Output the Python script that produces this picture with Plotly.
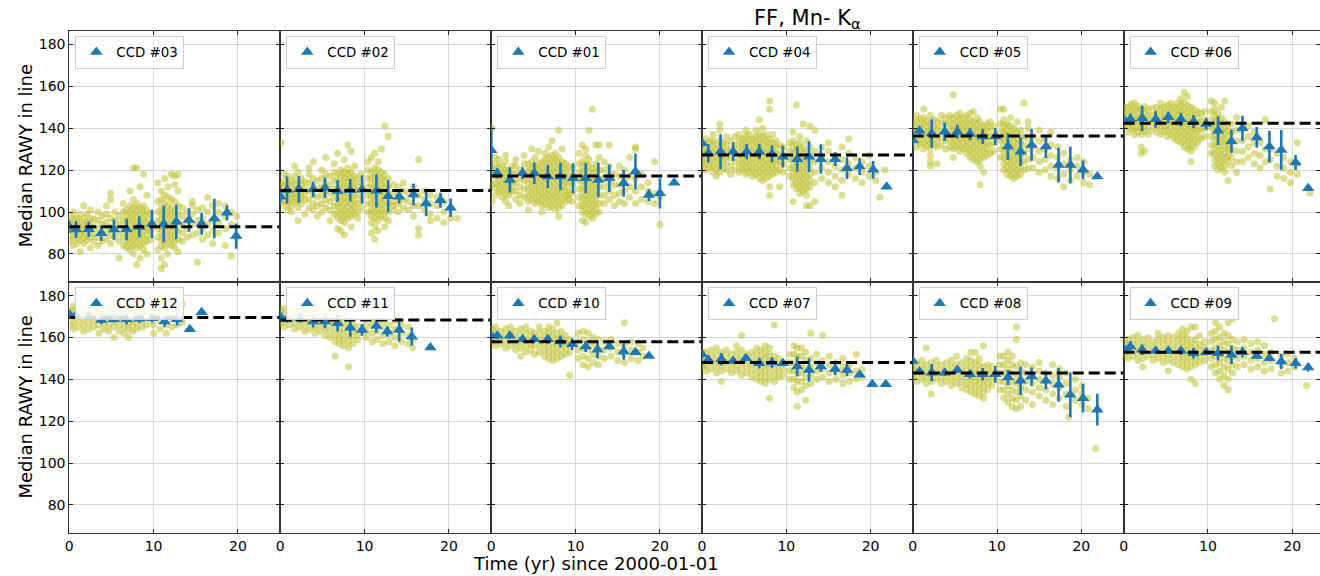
import plotly.graph_objects as go

# ---------------- data ----------------
CCD_LABELS = ["CCD #03", "CCD #02", "CCD #01", "CCD #04", "CCD #05", "CCD #06",
              "CCD #12", "CCD #11", "CCD #10", "CCD #07", "CCD #08", "CCD #09"]
MEDIANS = [93.0, 110.2, 117.2, 127.2, 136.3, 142.3, 169.5, 168.4, 157.9, 148.1, 143.0, 153.0]
X_TICKS = [0, 10, 20]
Y_TICKS = [80, 100, 120, 140, 160, 180]

# binned medians (blue triangles): time, value, error
BIN_T_03 = [0.0, 0.8, 2.3, 3.8, 5.3, 6.8, 8.3, 9.8, 11.2, 12.7, 14.2, 15.7, 17.2, 18.7, 19.8]
BIN_V_03 = [93.0, 91.6, 91.8, 89.8, 91.6, 91.6, 92.9, 94.3, 94.3, 95.3, 96.2, 94.4, 96.9, 99.6, 88.5]
BIN_E_03 = [3.0, 4.0, 3.6, 3.6, 4.8, 5.2, 4.9, 6.8, 8.7, 8.2, 5.6, 5.2, 9.4, 3.6, 6.0]

BIN_T_02 = [0.0, 0.8, 2.2, 3.9, 5.3, 6.8, 8.3, 9.7, 11.4, 12.8, 14.1, 15.8, 17.3, 19.0, 20.2]
BIN_V_02 = [107.3, 110.5, 110.8, 110.8, 111.6, 110.0, 110.4, 110.7, 110.1, 107.5, 107.3, 108.3, 104.0, 105.6, 102.0]
BIN_E_02 = [3.0, 6.4, 6.4, 3.6, 4.8, 5.2, 5.4, 6.8, 7.9, 7.6, 3.2, 5.2, 6.0, 3.6, 4.4]

BIN_T_01 = [0.0, 0.7, 2.2, 3.7, 5.1, 6.7, 8.2, 9.7, 11.2, 12.7, 14.0, 15.7, 17.1, 18.7, 20.0, 21.7]
BIN_V_01 = [129.5, 118.5, 115.3, 118.5, 118.5, 116.9, 116.9, 116.1, 116.1, 115.3, 116.1, 113.7, 119.3, 108.1, 108.9, 114.0]
BIN_E_01 = [11.0, 2.4, 6.0, 2.8, 5.2, 5.6, 6.5, 7.2, 7.2, 8.3, 6.5, 6.4, 8.6, 2.8, 7.2, 0.0]

BIN_T_04 = [0.0, 0.75, 2.2, 3.7, 5.3, 6.8, 8.3, 9.6, 11.3, 12.7, 14.1, 15.8, 17.2, 18.7, 20.3, 21.9]
BIN_V_04 = [132.8, 128.0, 128.8, 128.8, 128.8, 128.8, 127.7, 126.4, 125.2, 126.4, 125.2, 125.2, 120.9, 121.7, 120.1, 112.1]
BIN_E_04 = [2.0, 4.4, 8.3, 4.5, 3.6, 3.6, 4.0, 5.2, 6.0, 7.3, 7.0, 3.3, 5.2, 4.0, 4.2, 0.0]

BIN_T_05 = [0.0, 0.8, 2.25, 3.8, 5.3, 6.8, 8.3, 9.8, 11.3, 12.8, 14.1, 15.8, 17.3, 18.7, 20.2, 21.9]
BIN_V_05 = [134.4, 138.8, 137.5, 138.3, 138.3, 137.2, 136.0, 136.0, 131.2, 128.8, 132.0, 131.2, 122.4, 122.4, 120.1, 116.9]
BIN_E_05 = [3.0, 2.0, 6.8, 4.4, 3.2, 2.8, 3.6, 4.0, 6.4, 6.8, 7.6, 5.4, 8.3, 8.7, 4.5, 0.0]

BIN_T_06 = [0.0, 0.8, 2.2, 3.8, 5.3, 6.8, 8.3, 9.8, 11.2, 12.8, 14.1, 15.8, 17.3, 18.7, 20.4, 21.9]
BIN_V_06 = [144.2, 144.2, 144.7, 144.2, 145.2, 144.2, 143.1, 142.0, 138.8, 133.6, 139.9, 135.6, 131.2, 129.6, 123.6, 111.3]
BIN_E_06 = [2.0, 2.8, 6.0, 4.0, 2.8, 3.2, 3.2, 2.8, 6.8, 5.6, 6.0, 4.9, 7.6, 9.5, 3.6, 0.0]

BIN_T_12 = [0.0, 0.8, 2.3, 3.8, 5.3, 6.8, 8.3, 9.8, 11.3, 12.8, 14.3, 15.7]
BIN_V_12 = [171.1, 170.5, 170.1, 168.4, 168.7, 168.7, 169.0, 169.2, 167.6, 168.7, 163.9, 172.1]
BIN_E_12 = [1.5, 2.0, 1.5, 2.0, 1.5, 2.5, 2.0, 2.0, 2.5, 3.0, 0.0, 0.0]

BIN_T_11 = [0.0, 0.8, 2.4, 3.9, 5.3, 6.8, 8.3, 9.7, 11.4, 12.7, 14.1, 15.6, 17.8]
BIN_V_11 = [170.0, 168.7, 169.2, 167.6, 167.6, 166.8, 164.7, 163.6, 165.5, 162.8, 163.6, 160.4, 155.2]
BIN_E_11 = [1.5, 1.5, 2.0, 2.8, 3.2, 4.0, 4.4, 2.8, 3.2, 2.4, 5.6, 4.4, 0.0]

BIN_T_10 = [0.0, 0.7, 2.2, 3.7, 5.1, 6.7, 8.2, 9.6, 11.2, 12.6, 14.0, 15.7, 17.1, 18.7]
BIN_V_10 = [160.8, 160.8, 160.8, 159.2, 159.2, 159.2, 158.1, 156.8, 155.7, 154.1, 155.7, 153.3, 153.0, 151.2]
BIN_E_10 = [1.5, 1.5, 1.5, 1.5, 1.5, 2.0, 2.8, 2.8, 2.6, 4.0, 1.5, 4.0, 1.5, 0.0]

BIN_T_07 = [0.0, 0.75, 2.3, 3.7, 5.2, 6.8, 8.3, 9.6, 11.3, 12.7, 14.1, 15.8, 17.2, 18.7, 20.2, 21.8]
BIN_V_07 = [152.0, 149.3, 149.6, 148.8, 150.1, 147.7, 148.0, 147.7, 146.1, 144.5, 146.1, 145.0, 144.5, 142.2, 137.7, 137.7]
BIN_E_07 = [1.5, 2.0, 3.0, 1.5, 1.5, 2.5, 2.5, 1.5, 4.8, 5.6, 2.5, 3.0, 3.0, 0.0, 0.0, 0.0]

BIN_T_08 = [0.0, 0.8, 2.25, 3.8, 5.3, 6.8, 8.3, 9.8, 11.3, 12.8, 14.1, 15.8, 17.3, 18.7, 20.2, 21.9]
BIN_V_08 = [148.8, 143.7, 143.2, 143.2, 144.5, 142.4, 142.4, 142.4, 140.9, 139.3, 141.3, 139.3, 137.4, 132.6, 131.0, 125.5]
BIN_E_08 = [1.5, 1.5, 4.1, 1.5, 1.5, 2.0, 3.0, 4.0, 3.6, 6.8, 4.4, 4.0, 8.0, 10.7, 6.8, 7.6]

BIN_T_09 = [0.0, 0.8, 2.2, 3.8, 5.3, 6.8, 8.3, 9.8, 11.2, 12.8, 14.1, 15.8, 17.3, 18.7, 20.4, 21.9]
BIN_V_09 = [154.9, 155.7, 154.1, 153.6, 153.6, 153.6, 152.5, 153.0, 152.5, 151.7, 153.0, 151.2, 150.1, 148.5, 147.7, 145.7]
BIN_E_09 = [1.5, 2.5, 2.5, 1.5, 1.5, 2.0, 2.5, 1.5, 3.5, 4.4, 2.5, 1.5, 1.5, 3.6, 2.5, 2.0]

# individual observations (olive dots): (time, [values at that time])
CLOUD_03 = [(0.1, [86, 89, 92, 95, 98]), (0.5, [84, 87.5, 90.5, 93.5, 96.5, 100]),
            (0.9, [85, 88, 91, 94, 97]), (1.3, [81, 86.5, 89.5, 92.5, 95.5, 99]),
            (1.7, [85, 88, 91, 94, 97, 103]), (2.1, [86.5, 89.5, 92.5, 95.5, 99]),
            (2.5, [83, 88, 91, 94, 97, 101]), (2.9, [86, 89.5, 93, 96.5]),
            (3.4, [84, 88, 92, 96, 100]), (3.9, [86, 90, 94, 98]), (4.4, [87, 91, 95, 99, 103]),
            (4.9, [85, 89, 93, 97, 106, 109]), (5.4, [88, 92, 96, 100]), (5.9, [86, 90, 94, 98, 78]),
            (6.4, [84, 88, 92, 96, 100, 104]), (6.8, [83, 86, 89, 92, 95, 98, 101]),
            (7.2, [82, 85, 88, 91, 94, 97, 100, 103, 110]),
            (7.6, [80, 84, 87, 90, 93, 96, 99, 102, 106, 121]),
            (8.0, [75, 83, 86, 89, 92, 95, 98, 101, 104, 121]),
            (8.4, [78, 84, 87, 90, 93, 96, 99, 102, 112]),
            (8.8, [82, 85, 88, 91, 94, 97, 100, 103, 118]),
            (9.2, [80, 86, 89, 92, 95, 98, 101, 108]), (9.6, [87, 91, 95, 99]),
            (10.5, [82, 88, 92, 96, 100, 105, 114]),
            (10.9, [73, 78, 84, 87, 90, 93, 96, 99, 102, 106, 110]),
            (11.3, [75, 83, 86, 89, 92, 95, 98, 101, 104, 108, 116]),
            (11.7, [80, 85, 88, 91, 94, 97, 100, 103, 107, 112]),
            (12.1, [84, 87, 90, 93, 96, 99, 102, 106, 118]),
            (12.5, [83, 86, 89, 92, 95, 98, 101, 105, 113, 117]),
            (12.9, [81, 87, 91, 95, 99, 103, 110, 118]), (13.4, [86, 90, 94, 98, 102]),
            (14.0, [88, 92, 96, 100]), (14.6, [89, 94, 99, 103, 105]), (15.2, [90, 96, 101, 76]),
            (15.8, [87, 92, 97, 102]), (16.4, [89, 94, 100, 107]), (17.0, [91, 96, 103, 85]),
            (17.7, [90, 95, 100, 104]), (18.5, [84, 92, 98, 103]), (19.2, [79, 94, 100]),
            (19.9, [98, 88])]

CLOUD_02 = [(0.1, [133, 105, 109, 113]), (0.5, [103, 106, 109, 112, 115, 118]),
            (0.9, [101, 104.5, 107.5, 110.5, 113.5, 117]), (1.3, [103, 106, 109, 112, 115, 100]),
            (1.7, [104.5, 107.5, 110.5, 113.5, 117, 122]), (2.1, [102, 105, 108, 111, 114, 119, 96]),
            (2.5, [104, 107, 110, 113, 116]), (2.9, [99, 105.5, 108.5, 111.5, 114.5]),
            (3.4, [102, 106, 110, 114, 118, 121]), (3.9, [101, 104, 108, 112, 116, 124]),
            (4.4, [103, 107, 111, 115, 98]), (4.9, [100, 104, 108, 112, 116, 120]),
            (5.4, [102, 106, 110, 114, 118, 126]), (5.9, [101, 105, 109, 113, 117, 96]),
            (6.4, [99, 103, 107, 111, 115, 119, 123]),
            (6.8, [97, 100, 103, 106, 109, 112, 115, 118, 128, 92]),
            (7.2, [96, 99, 102, 105, 108, 111, 114, 117, 120, 91]),
            (7.6, [95, 98, 101, 104, 107, 110, 113, 116, 119, 125, 89]),
            (8.0, [97, 100, 103, 106, 109, 112, 115, 118, 121, 132]),
            (8.4, [98, 101, 104, 107, 110, 113, 116, 119, 129, 93]),
            (8.8, [99, 102, 105, 108, 111, 114, 117, 122]), (9.2, [100, 104, 108, 112, 116, 97]),
            (9.6, [102, 106, 110, 114, 118]), (10.4, [100, 104, 108, 112, 116, 120, 124]),
            (10.8, [95, 98, 101, 104, 107, 110, 113, 116, 119, 126, 90]),
            (11.2, [93, 97, 100, 103, 106, 109, 112, 115, 118, 121, 128, 87]),
            (11.6, [96, 99, 102, 105, 108, 111, 114, 117, 120, 124, 91]),
            (12.0, [98, 101, 104, 107, 110, 113, 116, 119, 130]),
            (12.4, [97, 100, 103, 106, 109, 112, 115, 118, 141, 93]),
            (12.8, [100, 104, 108, 112, 116, 136, 96]), (13.4, [101, 105, 109, 113, 103]),
            (14.0, [100, 104, 108, 112]), (14.6, [102, 106, 110, 114]), (15.2, [101, 105, 109]),
            (15.8, [98, 103, 108, 112]), (16.4, [125, 103, 92, 89, 108]), (17.1, [101, 106, 110]),
            (17.8, [99, 104, 108, 96]), (18.6, [97, 103, 107]), (19.4, [100, 95, 105]),
            (20.2, [97, 102]), (21.0, [97])]

CLOUD_01 = [(0.1, [140, 105, 113, 117, 121]), (0.5, [108, 111, 114, 117, 120, 123, 126]),
            (0.9, [109.5, 112.5, 115.5, 118.5, 121.5, 125]), (1.3, [107, 110, 113, 116, 119, 122]),
            (1.7, [105, 108.5, 111.5, 114.5, 117.5, 120.5, 124, 127]), (2.1, [108, 111, 114, 117, 120, 103]),
            (2.5, [109.5, 112.5, 115.5, 118.5, 122]), (2.9, [106, 110, 114, 118, 122, 125]),
            (3.4, [108, 112, 116, 120, 104]), (3.9, [107, 111, 115, 119, 123, 127]),
            (4.4, [105, 108, 111, 114, 117, 120, 123, 101]),
            (4.8, [106, 109, 112, 115, 118, 121, 124, 130]),
            (5.2, [104, 107, 110, 113, 116, 119, 122, 126]),
            (5.6, [105, 108, 111, 114, 117, 120, 123, 129]),
            (6.0, [103, 106, 109, 112, 115, 118, 121, 124, 100]),
            (6.4, [104, 107, 110, 113, 116, 119, 122, 125, 128]),
            (6.8, [102, 105, 108, 111, 114, 117, 120, 123, 126, 131]),
            (7.2, [103, 106, 109, 112, 115, 118, 121, 124, 127, 134]),
            (7.6, [101, 104, 107, 110, 113, 116, 119, 122, 125, 128]),
            (8.0, [98, 102, 105, 108, 111, 114, 117, 120, 123, 126, 139]),
            (8.4, [103, 106, 109, 112, 115, 118, 121, 124, 130]),
            (8.8, [105, 108, 111, 114, 117, 120, 123]), (9.2, [106, 110, 114, 118, 122, 108]),
            (9.6, [105, 109, 113, 117, 121]), (10.4, [103, 107, 111, 115, 119, 123, 128]),
            (10.8, [96, 100, 103, 106, 109, 112, 115, 118, 121, 124, 132]),
            (11.2, [95, 99, 102, 105, 108, 111, 114, 117, 120, 123, 127, 130]),
            (11.6, [98, 101, 104, 107, 110, 113, 116, 119, 122, 125, 139]),
            (12.0, [97, 100, 103, 106, 109, 112, 115, 118, 121, 149]),
            (12.4, [99, 102, 105, 108, 111, 114, 117, 120, 123, 132]),
            (12.8, [100, 104, 108, 112, 116, 120, 126, 132]), (13.4, [104, 108, 112, 116, 120, 124]),
            (14.0, [106, 110, 114, 118, 122, 132]), (14.6, [103, 108, 113, 118]),
            (15.2, [105, 109, 113, 117, 122]), (15.8, [104, 110, 115, 120]),
            (16.4, [107, 112, 117, 126]), (17.1, [104, 110, 116, 131, 130]), (17.8, [106, 112, 118]),
            (18.6, [105, 110, 114]), (19.4, [104, 109, 124]), (20.0, [94, 107])]

CLOUD_04 = [(0.1, [133, 122, 125, 128, 131]), (0.5, [120, 123, 126, 129, 132, 135]),
            (0.9, [121.5, 124.5, 127.5, 130.5, 133.5]), (1.3, [119, 122, 125, 128, 131, 134, 137]),
            (1.7, [117, 120.5, 123.5, 126.5, 129.5, 132.5]),
            (2.1, [119, 122, 125, 128, 131, 134, 142, 139]), (2.5, [121, 124, 127, 130, 133]),
            (2.9, [120, 123.5, 126.5, 129.5, 132.5, 136]), (3.4, [118, 122, 126, 130, 134]),
            (3.9, [120, 124, 128, 132, 136]), (4.4, [119, 122, 125, 128, 131, 134, 137]),
            (4.8, [120, 123, 126, 129, 132, 135]), (5.2, [118, 121, 124, 127, 130, 133, 136, 139]),
            (5.6, [119, 122, 125, 128, 131, 134, 137]), (6.0, [117, 120, 123, 126, 129, 132, 135]),
            (6.4, [118, 121, 124, 127, 130, 133, 136, 139]),
            (6.8, [116, 119, 122, 125, 128, 131, 134, 137, 144]),
            (7.2, [115, 118, 121, 124, 127, 130, 133, 136, 140]),
            (7.6, [116, 119, 122, 125, 128, 131, 134, 137]),
            (8.0, [108, 112, 117, 120, 123, 126, 129, 132, 135, 153, 149]),
            (8.4, [118, 121, 124, 127, 130, 133, 137]), (8.8, [119, 122, 125, 128, 131, 134]),
            (9.2, [120, 124, 128, 132, 112]), (9.6, [119, 123, 127, 131]),
            (10.4, [117, 121, 125, 129, 133]),
            (10.8, [113, 116, 119, 122, 125, 128, 131, 134, 138, 105]),
            (11.2, [111, 114, 117, 120, 123, 126, 129, 132, 151]),
            (11.6, [109, 112, 115, 118, 121, 124, 127, 130, 133, 136]),
            (12.0, [110, 113, 116, 119, 122, 125, 128, 131, 142]),
            (12.4, [103, 108, 111, 114, 117, 120, 123, 126, 129, 134]),
            (12.8, [103, 112, 115, 118, 121, 124, 127, 131, 141]),
            (13.4, [105, 114, 119, 124, 129, 139]), (14.2, [116, 121, 126, 131]),
            (15.0, [114, 119, 124, 129, 133]), (15.8, [112, 117, 122, 127]),
            (16.6, [108, 115, 120, 125, 131]), (17.4, [118, 123, 128, 135]), (18.2, [116, 121, 126]),
            (19.0, [114, 119, 124]), (19.8, [117, 122, 127]), (20.6, [115, 119]), (21.1, [107]),
            (21.7, [120])]

CLOUD_05 = [(0.1, [134, 137, 140, 143]), (0.5, [131, 134, 137, 140, 143, 146]),
            (0.9, [132.5, 135.5, 138.5, 141.5, 144.5]), (1.3, [130, 133, 136, 139, 142, 145, 149]),
            (1.7, [131.5, 134.5, 137.5, 140.5, 143.5]),
            (2.1, [122, 124, 127, 130, 133, 136, 139, 142, 146]), (2.5, [132, 135, 138, 141, 144]),
            (2.9, [123, 131, 134, 137, 140, 143]), (3.4, [132, 135.5, 139, 142.5, 146]),
            (3.9, [130, 134, 138, 142, 145]), (4.4, [131, 134, 137, 140, 143, 146]),
            (4.8, [126, 130, 133, 136, 139, 142, 145, 156]), (5.2, [131, 134, 137, 140, 143, 146]),
            (5.6, [129, 132, 135, 138, 141, 144, 147]), (6.0, [130, 133, 136, 139, 142, 145]),
            (6.4, [128, 131, 134, 137, 140, 143, 146]),
            (6.8, [126, 129, 132, 135, 138, 141, 144, 147]),
            (7.2, [125, 128, 131, 134, 137, 140, 143, 148]),
            (7.6, [124, 127, 130, 133, 136, 139, 142, 145]),
            (8.0, [113, 122, 125, 128, 131, 134, 137, 140, 143]),
            (8.4, [119, 126, 129, 132, 135, 138, 141]), (8.8, [127, 130, 133, 136, 139, 142]),
            (9.2, [128, 132, 136, 140, 143]), (9.6, [129, 133, 137, 141]),
            (10.4, [126, 130, 134, 138, 142, 149]),
            (10.8, [120, 123, 126, 129, 132, 135, 138, 141, 144, 149]),
            (11.2, [118, 121, 124, 127, 130, 133, 136, 139, 142]),
            (11.6, [117, 120, 123, 126, 129, 132, 135, 138, 141, 145]),
            (12.0, [116, 119, 122, 125, 128, 131, 134, 137, 140]),
            (12.4, [117, 120, 123, 126, 129, 132, 135, 138, 143]),
            (12.8, [118, 121, 124, 127, 130, 133, 136, 139]), (13.2, [120, 124, 128, 132, 136, 152]),
            (13.7, [121, 125, 130, 135, 140, 143]), (14.3, [121, 126, 131, 136]),
            (15.0, [119, 124, 129, 134, 139]), (15.7, [120, 125, 130, 135]),
            (16.4, [117, 122, 127, 132, 138]), (17.2, [116, 121, 126, 131]),
            (17.9, [112, 118, 123, 128]), (18.7, [115, 120, 125]), (19.5, [117, 122, 126]),
            (20.3, [114, 119, 124]), (21.0, [113, 118])]

CLOUD_06 = [(0.1, [141, 144, 147, 150]), (0.5, [138, 141, 144, 147, 150]),
            (0.9, [139.5, 142.5, 145.5, 148.5, 151.5]), (1.3, [137, 140, 143, 146, 149, 152]),
            (1.7, [138.5, 141.5, 144.5, 147.5, 150.5]), (2.1, [128, 131, 137, 140, 143, 146, 149]),
            (2.5, [129, 138.5, 141.5, 144.5, 147.5, 150.5]), (2.9, [137, 140, 143, 146, 149]),
            (3.4, [139, 142.5, 146, 149.5]), (3.9, [138, 141, 144, 147, 150]),
            (4.4, [137, 140, 143, 146, 149, 152]), (4.8, [138, 141, 144, 147, 150]),
            (5.2, [136, 139, 142, 145, 148, 151]), (5.6, [137, 140, 143, 146, 149, 152]),
            (6.0, [135, 138, 141, 144, 147, 150]), (6.4, [134, 137, 140, 143, 146, 149, 152]),
            (6.8, [133, 136, 139, 142, 145, 148, 151, 154]),
            (7.2, [131, 134, 137, 140, 143, 146, 149, 152, 157]),
            (7.6, [130, 133, 136, 139, 142, 145, 148, 151, 155]),
            (8.0, [124, 129, 132, 135, 138, 141, 144, 147, 150]),
            (8.4, [131, 134, 137, 140, 143, 146, 149]), (8.8, [133, 136, 139, 142, 145, 148]),
            (9.2, [135, 139, 143, 147]), (9.6, [136, 140, 144, 148]),
            (10.4, [128, 132, 136, 140, 144, 148, 153]),
            (10.8, [122, 125, 128, 131, 134, 137, 140, 143, 146, 149, 152]),
            (11.2, [120, 123, 126, 129, 132, 135, 138, 141, 144, 147]),
            (11.6, [121, 124, 127, 130, 133, 136, 139, 142, 145, 150]),
            (12.0, [119, 122, 125, 128, 131, 134, 137, 140, 143, 153]),
            (12.4, [115, 124, 127, 130, 133, 136, 139, 142]), (12.8, [122, 126, 130, 134, 138, 142]),
            (13.4, [119, 124, 129, 134, 139, 145]), (14.1, [124, 129, 134, 139]),
            (14.8, [126, 131, 136, 141]), (15.5, [123, 128, 133, 138]), (16.2, [121, 127, 133]),
            (16.8, [144, 130, 124]), (17.4, [111, 125, 130]), (18.2, [117, 122, 128]),
            (19.0, [116, 121, 126]), (19.8, [114, 119, 124]), (20.6, [118, 123, 133]), (22.1, [109])]

CLOUD_12 = [(0.1, [166, 170, 173]), (0.5, [164, 167, 170, 173, 175]), (1.1, [165, 168, 171, 174]),
            (1.7, [163, 166, 169, 172, 175]), (2.3, [164, 167, 170, 173]), (2.9, [165, 168, 171, 174]),
            (3.5, [162, 166, 169, 172, 175]), (4.1, [164, 167, 170, 173]),
            (4.7, [163, 166, 169, 172, 175]), (5.3, [160, 165, 168, 171, 174]),
            (5.9, [163, 166, 169, 172]), (6.5, [162, 165, 168, 171, 174]),
            (7.0, [160, 164, 167, 170, 173]), (7.5, [163, 166, 169, 172, 175]),
            (8.0, [164, 167, 170, 173]), (8.6, [165, 168, 171, 174]), (9.2, [166, 169, 172]),
            (10.0, [162, 166, 170, 174]), (10.8, [164, 168, 171]), (11.5, [162, 166, 170, 174]),
            (12.2, [165, 169, 172]), (12.8, [166, 170, 174]), (13.4, [167, 176])]

CLOUD_11 = [(0.1, [167, 170, 173]), (0.5, [165, 168, 171, 174]), (1.1, [166, 169, 172]),
            (1.7, [164, 167, 170, 173]), (2.3, [165, 168, 171, 174]), (2.9, [163, 166, 169, 172]),
            (3.5, [164, 167, 170, 173]), (4.1, [162, 165, 168, 171, 174]),
            (4.7, [163, 166, 169, 172]), (5.3, [161, 164, 167, 170, 173]),
            (5.9, [160, 163, 166, 169, 172]), (6.5, [158, 161, 164, 167, 170, 151]),
            (7.0, [157, 160, 163, 166, 169]), (7.5, [156, 159, 162, 165, 168, 171]),
            (8.1, [146, 155, 158, 161, 164, 167]), (8.6, [157, 160, 163, 166]),
            (9.2, [159, 162, 165]), (10.2, [160, 163, 166]), (10.9, [158, 162, 166, 169]),
            (11.5, [159, 163, 167]), (12.2, [157, 161, 165, 168]), (12.9, [158, 162, 166]),
            (13.6, [156, 160, 164, 168]), (14.4, [158, 162, 166]), (15.2, [157, 161, 165]),
            (15.7, [155, 159])]

CLOUD_10 = [(0.1, [158, 161, 164]), (0.5, [156, 159, 162, 165]), (1.1, [157, 160, 163]),
            (1.7, [155, 158, 161, 164]), (2.3, [156, 159, 162, 165]), (2.9, [154, 157, 160, 163]),
            (3.5, [155, 158, 161, 164, 151]), (4.1, [153, 156, 159, 162, 165]),
            (4.7, [154, 157, 160, 163]), (5.1, [152, 156, 159, 162, 171]),
            (5.7, [153, 156, 159, 162, 165]), (6.3, [151, 154, 157, 160, 163]),
            (6.8, [150, 153, 156, 159, 162, 165]), (7.3, [149, 152, 155, 158, 161, 164]),
            (7.8, [150, 153, 156, 159, 162, 167]), (8.3, [151, 154, 157, 160, 163]),
            (8.8, [152, 155, 158, 161]), (9.3, [142, 153, 156, 159]), (10.3, [150, 154, 158, 162]),
            (10.9, [147, 151, 155, 159, 163]), (11.5, [146, 150, 154, 158, 162]),
            (12.1, [148, 152, 156, 160]), (12.7, [147, 151, 155, 159]), (13.4, [150, 154, 158]),
            (14.2, [151, 155, 159]), (15.0, [149, 153, 157]), (15.8, [148, 152, 156, 167]),
            (16.6, [150, 154, 158]), (17.4, [149, 153, 157]), (18.0, [151, 155])]

CLOUD_07 = [(0.1, [146, 150, 153]), (0.5, [144, 147, 150, 153]), (1.1, [145, 148, 151, 154]),
            (1.7, [143, 146, 149, 152, 155]), (2.3, [144, 147, 150, 153, 139]),
            (2.9, [145, 148, 151, 154]), (3.5, [143, 146, 149, 152]),
            (4.1, [144, 147, 150, 153, 156]), (4.7, [142, 145, 148, 151, 154, 161]),
            (5.3, [143, 146, 149, 152]), (5.9, [141, 144, 147, 150, 153]),
            (6.5, [140, 143, 146, 149, 152, 155]), (7.0, [139, 142, 145, 148, 151, 154]),
            (7.5, [138, 141, 144, 147, 150, 153, 156]), (8.0, [131, 140, 143, 146, 149, 152, 155]),
            (8.6, [139, 142, 145, 148, 151, 166]), (9.1, [141, 144, 147, 150]), (9.6, [142, 145, 148]),
            (10.4, [140, 144, 148, 152]), (10.9, [136, 140, 144, 148, 152, 156]),
            (11.3, [127, 134, 139, 143, 147, 151, 155]), (11.8, [135, 139, 143, 147, 151, 155]),
            (12.3, [130, 137, 141, 145, 149, 153]), (12.9, [138, 142, 146, 150, 162]),
            (13.6, [140, 144, 148, 152]), (14.3, [141, 145, 149, 161]), (15.1, [139, 143, 147, 151]),
            (15.9, [140, 144, 148]), (16.7, [138, 142, 146, 150]), (17.5, [139, 143, 147]),
            (18.3, [140, 144, 152]), (19.0, [141, 145])]

CLOUD_08 = [(0.1, [141, 145, 148]), (0.5, [139, 142, 145, 148]), (1.1, [140, 143, 146, 149]),
            (1.6, [138, 141, 144, 147, 155]), (2.2, [133, 139, 142, 145, 148]),
            (2.8, [140, 143, 146, 149]), (3.4, [138, 141, 144, 147]), (4.0, [139, 142, 145, 148]),
            (4.6, [137, 140, 143, 146, 149]), (5.2, [138, 141, 144, 147, 151]),
            (5.8, [136, 139, 142, 145, 148]), (6.4, [135, 138, 141, 144, 147, 150]),
            (6.9, [134, 137, 140, 143, 146, 149, 153]), (7.4, [133, 136, 139, 142, 145, 148, 153]),
            (7.9, [132, 135, 138, 141, 144, 147, 150]), (8.4, [131, 134, 137, 140, 143, 146, 156]),
            (8.9, [135, 138, 141, 144, 147]), (9.4, [137, 140, 143, 146]),
            (10.3, [135, 139, 143, 147, 151]), (10.8, [131, 135, 139, 143, 147, 151]),
            (11.3, [129, 133, 137, 141, 145, 149, 153]), (11.8, [127, 131, 135, 139, 143, 147, 151]),
            (12.3, [126, 130, 134, 138, 142, 146, 159, 165]), (12.8, [127, 132, 136, 140, 144, 148]),
            (13.4, [130, 135, 139, 143, 147]), (14.2, [128, 134, 138, 142, 146]),
            (15.0, [132, 136, 140, 144, 148]), (15.8, [130, 135, 139, 143]),
            (16.6, [128, 133, 138, 142, 147]), (17.4, [131, 136, 141, 145]),
            (18.2, [127, 133, 138, 143]), (18.5, [122]), (19.3, [130, 135, 140]),
            (20.1, [128, 133, 137]), (20.8, [126, 131]), (21.7, [107])]

CLOUD_09 = [(0.1, [152, 155, 158]), (0.5, [150, 153, 156, 159]), (1.1, [151, 154, 157, 160]),
            (1.7, [149, 152, 155, 158, 161]), (2.3, [146, 150, 153, 156, 159]),
            (2.9, [151, 154, 157, 160]), (3.5, [149, 152, 155, 158]),
            (4.1, [150, 153, 156, 159, 162]), (4.7, [148, 151, 154, 157, 160]),
            (5.3, [144, 149, 152, 155, 158, 161]), (5.9, [148, 151, 154, 157, 160]),
            (6.5, [147, 150, 153, 156, 159, 162]), (7.0, [146, 149, 152, 155, 158, 161, 164]),
            (7.5, [145, 148, 151, 154, 157, 160, 163]), (8.0, [140, 146, 149, 152, 155, 158, 165]),
            (8.5, [138, 147, 150, 153, 156, 159, 165]), (9.0, [148, 151, 154, 157, 161]),
            (9.6, [149, 152, 155, 158]), (10.4, [146, 150, 154, 158, 162]),
            (10.9, [143, 147, 151, 155, 159, 163, 167]), (11.4, [140, 144, 148, 152, 156, 160, 165]),
            (11.9, [137, 142, 146, 150, 154, 158, 162]),
            (12.4, [135, 140, 145, 149, 153, 157, 161, 167]), (12.9, [143, 147, 151, 155, 159, 169]),
            (13.5, [146, 150, 154, 158]), (14.3, [147, 151, 155, 159]), (15.1, [145, 149, 153, 157]),
            (15.9, [146, 150, 154, 158]), (16.7, [144, 148, 152, 156]), (17.5, [145, 149, 153]),
            (17.9, [169]), (18.7, [143, 147, 151]), (19.5, [144, 148, 152]), (20.3, [146, 150]),
            (21.7, [137])]

PANELS = [
    (BIN_T_03, BIN_V_03, BIN_E_03, CLOUD_03), (BIN_T_02, BIN_V_02, BIN_E_02, CLOUD_02),
    (BIN_T_01, BIN_V_01, BIN_E_01, CLOUD_01), (BIN_T_04, BIN_V_04, BIN_E_04, CLOUD_04),
    (BIN_T_05, BIN_V_05, BIN_E_05, CLOUD_05), (BIN_T_06, BIN_V_06, BIN_E_06, CLOUD_06),
    (BIN_T_12, BIN_V_12, BIN_E_12, CLOUD_12), (BIN_T_11, BIN_V_11, BIN_E_11, CLOUD_11),
    (BIN_T_10, BIN_V_10, BIN_E_10, CLOUD_10), (BIN_T_07, BIN_V_07, BIN_E_07, CLOUD_07),
    (BIN_T_08, BIN_V_08, BIN_E_08, CLOUD_08), (BIN_T_09, BIN_V_09, BIN_E_09, CLOUD_09),
]

# ---------------- layout / style ----------------
W, H = 1320, 576
FONT = "DejaVu Sans"
OLIVE = "rgba(188,189,34,0.5)"
BLUE = "#1f77b4"
COL_LEFT = [69.3, 280.3, 491.3, 702.0, 912.7, 1123.6]
COL_RIGHT = COL_LEFT[1:] + [1320.0]
ROW_TOP = [30.7, 282.0]
ROW_BOT = [282.0, 533.0]
PX_PER_YR = 8.43
YRANGE = [66.6, 186.5]

fig = go.Figure()
layout = {}
for i, (bt, bv, be, cloud) in enumerate(PANELS):
    r, c = divmod(i, 6)
    sfx = "" if i == 0 else str(i + 1)
    xa, ya = "x" + sfx, "y" + sfx
    xmax = (COL_RIGHT[c] - COL_LEFT[c]) / PX_PER_YR
    common = dict(ticks="inside", ticklen=4, tickwidth=1, tickcolor="#222",
                  showline=True, linecolor="#333", linewidth=1, mirror="ticks",
                  showgrid=True, gridcolor="#d6d6d6", gridwidth=1, zeroline=False,
                  tickfont=dict(size=14, color="black", family=FONT), automargin=False)
    layout["xaxis" + sfx] = dict(domain=[COL_LEFT[c] / W, COL_RIGHT[c] / W], range=[0, xmax],
                                 anchor=ya, tickvals=X_TICKS, showticklabels=(r == 1), **common)
    layout["yaxis" + sfx] = dict(domain=[1 - ROW_BOT[r] / H, 1 - ROW_TOP[r] / H], range=YRANGE,
                                 anchor=xa, tickvals=Y_TICKS, showticklabels=(c == 0), **common)

    cx, cy = [], []
    for t, vals in cloud:
        for v in vals:
            cx.append(t)
            cy.append(v)
    fig.add_trace(go.Scatter(x=cx, y=cy, xaxis=xa, yaxis=ya, mode="markers",
                             marker=dict(color=OLIVE, size=7, line=dict(width=0)),
                             showlegend=False, hoverinfo="skip"))
    legkey = "legend" if i == 0 else "legend" + str(i + 1)
    fig.add_trace(go.Scatter(x=bt, y=bv, xaxis=xa, yaxis=ya, mode="markers",
                             marker=dict(color=BLUE, symbol="triangle-up", size=11, line=dict(width=0)),
                             error_y=dict(type="data", array=be, color=BLUE, thickness=2.6, width=0),
                             name=CCD_LABELS[i], showlegend=True, legend=legkey))
    fig.add_trace(go.Scatter(x=[0, xmax], y=[MEDIANS[i], MEDIANS[i]], xaxis=xa, yaxis=ya,
                             mode="lines", line=dict(color="black", width=3, dash="11px,5px"),
                             showlegend=False, hoverinfo="skip"))
    layout[legkey] = dict(x=(COL_LEFT[c] + 6) / W, y=1 - (ROW_TOP[r] + 5) / H,
                          xanchor="left", yanchor="top", bgcolor="rgba(255,255,255,0.85)",
                          bordercolor="#cccccc", borderwidth=1, tracegroupgap=0,
                          font=dict(size=13.4, family=FONT, color="black"))

annotations = [
    dict(text="FF, Mn- K<sub>α</sub>", x=807 / W, y=1 - 19 / H, xref="paper", yref="paper",
         showarrow=False, xanchor="center", yanchor="middle",
         font=dict(size=21, family=FONT, color="black")),
    dict(text="Time (yr) since 2000-01-01", x=596 / W, y=1 - 563 / H, xref="paper", yref="paper",
         showarrow=False, xanchor="center", yanchor="middle",
         font=dict(size=18, family=FONT, color="black")),
]
for r in range(2):
    annotations.append(dict(text="Median RAWY in line", x=25 / W,
                            y=1 - (ROW_TOP[r] + ROW_BOT[r]) / 2 / H, xref="paper", yref="paper",
                            showarrow=False, textangle=-90, xanchor="center", yanchor="middle",
                            font=dict(size=18, family=FONT, color="black")))

fig.update_layout(width=W, height=H, margin=dict(l=0, r=0, t=0, b=0),
                  paper_bgcolor="white", plot_bgcolor="white",
                  font=dict(family=FONT, color="black"),
                  annotations=annotations, **layout)
fig.write_html("out.html", config={"displayModeBar": False},
               post_script="document.body.style.margin='0px';")
